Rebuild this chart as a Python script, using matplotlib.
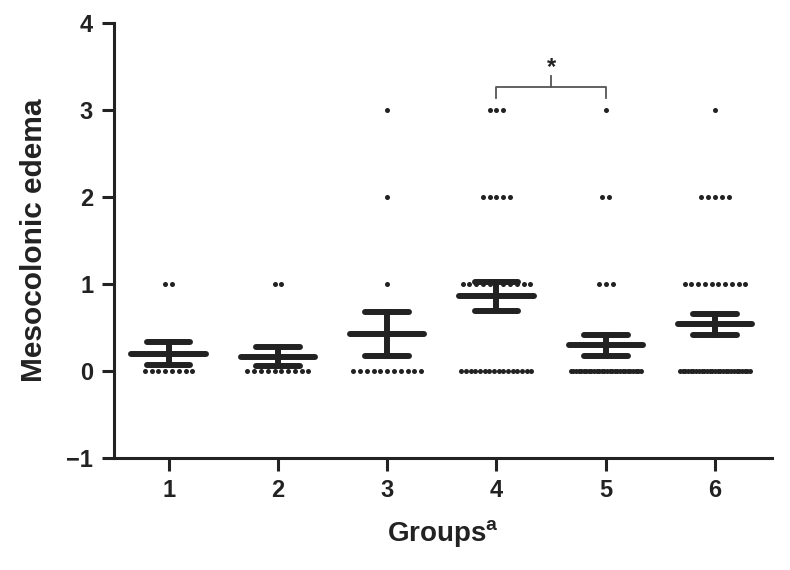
import numpy as np
import matplotlib
matplotlib.use("Agg")
import matplotlib.pyplot as plt

plt.rcParams["font.family"] = ["Liberation Sans", "DejaVu Sans"]
plt.rcParams["font.weight"] = "bold"

# scores per group: how many animals scored 0, 1, 2, 3
groups = ["1", "2", "3", "4", "5", "6"]
count_0 = [8, 10, 11, 16, 28, 27]
count_1 = [2, 2, 1, 11, 3, 10]
count_2 = [0, 0, 1, 5, 2, 5]
count_3 = [0, 0, 1, 3, 1, 1]
yticks = [-1, 0, 1, 2, 3, 4]

ink = "#222222"
step = 0.062
half_max = 0.32

fig = plt.figure(figsize=(7.9, 5.7), dpi=100)
ax = fig.add_axes([0.1443, 0.1965, 0.8327, 0.7631])

for i, g in enumerate(groups):
    x0 = i + 1
    counts = [count_0[i], count_1[i], count_2[i], count_3[i]]
    vals = []
    for score, n in enumerate(counts):
        if n == 0:
            continue
        vals += [score] * n
        if n > 1:
            sp = min(step, 2 * half_max / (n - 1))
            xs = x0 + (np.arange(n) - (n - 1) / 2) * sp
        else:
            xs = np.array([x0])
        ax.scatter(xs, [score] * n, s=13, color=ink, zorder=2, linewidths=0)
    vals = np.array(vals, dtype=float)
    m = vals.mean()
    sem = vals.std(ddof=1) / np.sqrt(len(vals))
    ax.plot([x0 - 0.34, x0 + 0.34], [m, m], color=ink, lw=4.3, solid_capstyle="round", zorder=3)
    ax.plot([x0 - 0.2, x0 + 0.2], [m + sem, m + sem], color=ink, lw=4.3, solid_capstyle="round", zorder=3)
    ax.plot([x0 - 0.2, x0 + 0.2], [m - sem, m - sem], color=ink, lw=4.3, solid_capstyle="round", zorder=3)
    ax.plot([x0, x0], [m - sem, m + sem], color=ink, lw=4.3, zorder=3)

# significance bracket between groups 4 and 5
ax.plot([4, 4, 5, 5], [3.14, 3.26, 3.26, 3.14], color="#555555", lw=1.3)
ax.plot([4.5, 4.5], [3.26, 3.39], color="#555555", lw=1.3)
ax.text(4.5, 3.36, "*", ha="center", va="bottom", fontsize=17, color=ink)

ax.set_xlim(0.5, 6.52)
ax.set_ylim(-1, 4)
ax.set_xticks(range(1, 7))
ax.set_xticklabels(groups)
ax.set_yticks(yticks)
ax.set_yticklabels(["\u22121" if t < 0 else str(t) for t in yticks])

for s in ["top", "right"]:
    ax.spines[s].set_visible(False)
for s in ["left", "bottom"]:
    ax.spines[s].set_linewidth(2.2)
    ax.spines[s].set_color(ink)
ax.tick_params(axis="both", length=9, width=2.2, color=ink, labelsize=17, labelcolor=ink, pad=6)

ax.set_ylabel("Mesocolonic edema", fontsize=21.5, fontweight="bold", color=ink, labelpad=13)
ax.set_xlabel(r"Groups$^{\mathregular{a}}$", fontsize=20, fontweight="bold", color=ink, labelpad=12)

fig.savefig("out.png", dpi=100)
